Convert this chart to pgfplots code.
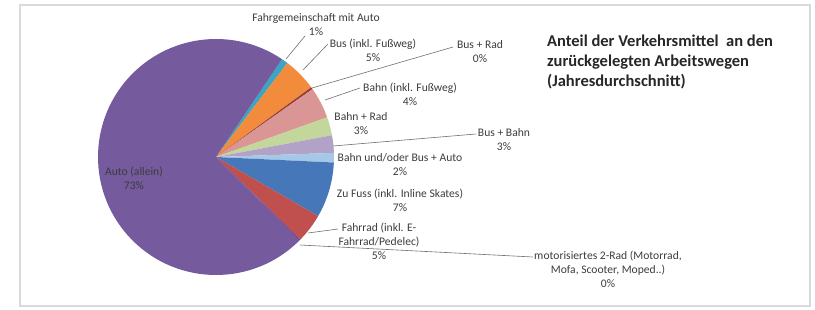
\documentclass[border=0pt]{standalone}
\usepackage{pgfplots}
\pgfplotsset{compat=1.18}
\usepackage{pgfplotstable}
\usepackage{fontspec}
\setmainfont{Carlito}
\definecolor{cAuto}{RGB}{117,90,157}
\definecolor{cTeal}{RGB}{60,165,195}
\definecolor{cOrange}{RGB}{242,140,60}
\definecolor{cPink}{RGB}{217,150,148}
\definecolor{cGreen}{RGB}{195,214,155}
\definecolor{cLav}{RGB}{179,162,199}
\definecolor{cLB}{RGB}{165,200,230}
\definecolor{cBlue}{RGB}{70,120,185}
\definecolor{cRed}{RGB}{192,80,77}
\definecolor{cBusRad}{RGB}{150,60,58}
\definecolor{cMotor}{RGB}{110,70,150}
\definecolor{lblgray}{RGB}{60,60,60}
\definecolor{linegray}{RGB}{110,110,110}
\pgfplotstableread{
id value color
Fahrgemeinschaft 0.9 cTeal
Bus 4.6 cOrange
BusRad 0.3 cBusRad
Bahn 4.3 cPink
BahnRad 2.5 cGreen
BusBahn 2.4 cLav
BahnBusAuto 1.3 cLB
ZuFuss 7.6 cBlue
Fahrrad 4.0 cRed
Motor 0.2 cMotor
Auto 71.9 cAuto
}\piedata
\begin{document}
\begin{tikzpicture}
\begin{axis}[x=1bp, y=1bp, xmin=0, xmax=815, ymin=0, ymax=309,
  hide axis, clip=false, scale only axis]
\path (axis cs:0,0) rectangle (axis cs:815,309);
\addplot[draw=none, forget plot] coordinates {(0,0) (815,309)};
\pgfplotsextra{
  \draw[color=black!15, line width=2bp] (axis cs:20,3.5) rectangle (axis cs:810,303.5);
  \gdef\curang{56}
  \pgfplotstablegetrowsof{\piedata}
  \pgfmathtruncatemacro\nrows{\pgfplotsretval-1}
  \foreach \i in {0,...,\nrows}{
    \pgfplotstablegetelem{\i}{value}\of\piedata
    \let\val\pgfplotsretval
    \pgfplotstablegetelem{\i}{color}\of\piedata
    \let\col\pgfplotsretval
    \pgfmathsetmacro\endang{\curang-\val*3.6}
    \fill[\col] (axis cs:216,152) -- ++(\curang:118bp) arc[start angle=\curang, end angle=\endang, radius=118bp] -- cycle;
    \xdef\curang{\endang}
  }
  \begin{scope}[linegray, line width=0.6bp]
  \draw (axis cs:286,250) -- (axis cs:305,273);
  \draw (axis cs:303,239) -- (axis cs:328,265);
  \draw (axis cs:312,221) -- (axis cs:453,262);
  \draw (axis cs:325,209) -- (axis cs:360,221);
  \draw (axis cs:333,163) -- (axis cs:476,175);
  \draw (axis cs:308,76) -- (axis cs:338,80);
  \draw (axis cs:300,64) -- (axis cs:533,52);
  \end{scope}
  \begin{scope}[every node/.style={font=\fontsize{11.6bp}{14bp}\selectfont, text=lblgray, align=center, inner sep=0pt}]
  \node at (axis cs:316,284.5) {Fahrgemeinschaft mit Auto\\1\%};
  \node at (axis cs:373,259) {Bus (inkl. Fußweg)\\5\%};
  \node at (axis cs:480,257.5) {Bus + Rad\\0\%};
  \node at (axis cs:410,214.5) {Bahn (inkl. Fußweg)\\4\%};
  \node at (axis cs:361,185) {Bahn + Rad\\3\%};
  \node at (axis cs:504,169.5) {Bus + Bahn\\3\%};
  \node at (axis cs:400,144) {Bahn und/oder Bus + Auto\\2\%};
  \node at (axis cs:400,109) {Zu Fuss (inkl. Inline Skates)\\7\%};
  \node at (axis cs:379,68) {Fahrrad (inkl. E-\\Fahrrad/Pedelec)\\5\%};
  \node at (axis cs:608,40) {motorisiertes 2-Rad (Motorrad,\\Mofa, Scooter, Moped..)\\0\%};
  \node at (axis cs:134,131) {Auto (allein)\\73\%};
  \end{scope}
  \node[anchor=west, align=left, inner sep=0pt, font=\fontsize{16.5bp}{20bp}\selectfont\bfseries, text=black!85] at (axis cs:547,247) {Anteil der Verkehrsmittel\ \ an den\\zurückgelegten Arbeitswegen\\(Jahresdurchschnitt)};
}
\end{axis}
\end{tikzpicture}
\end{document}
